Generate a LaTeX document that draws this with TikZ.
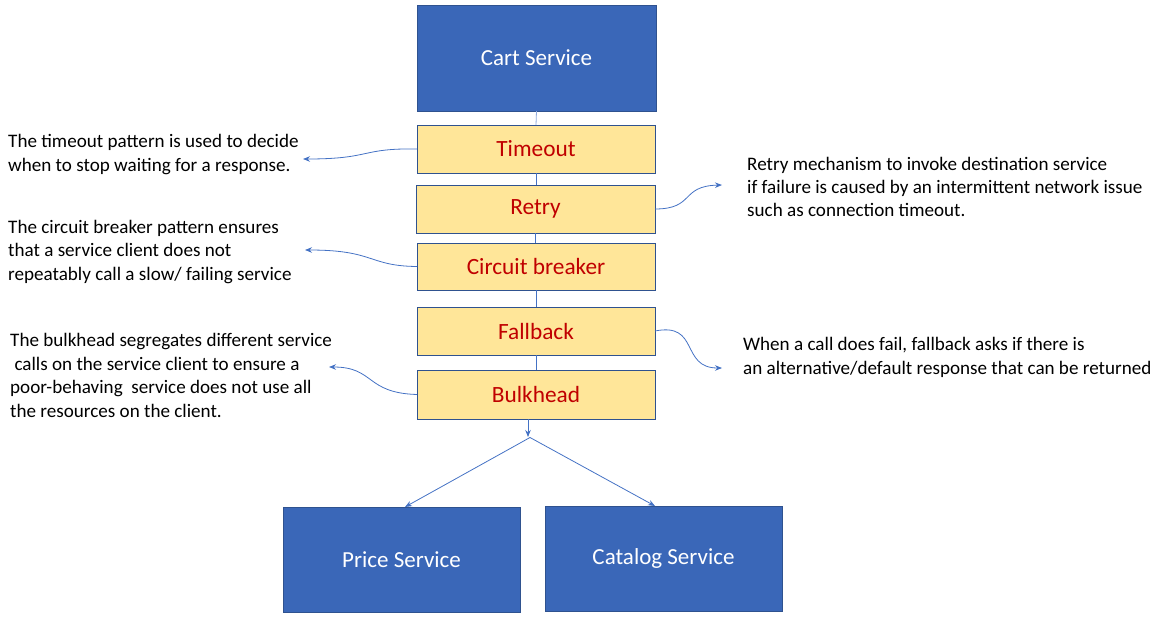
\documentclass[tikz,border=0pt]{standalone}
\usepackage{fontspec}
\setmainfont{Carlito}
\usetikzlibrary{arrows.meta}
\definecolor{svcblue}{HTML}{3A67B8}
\definecolor{svcedge}{HTML}{2F528F}
\definecolor{gold}{HTML}{FFE699}
\definecolor{redtxt}{HTML}{C00000}
\definecolor{linkblue}{HTML}{4472C4}
\tikzset{
  service/.style={draw=svcedge, line width=0.9pt, fill=svcblue, text=white, inner sep=0pt, outer sep=0pt, font=\fontsize{23}{27}\selectfont},
  pattern/.style={draw=svcedge, line width=0.9pt, fill=gold, text=redtxt, inner sep=0pt, outer sep=0pt, minimum width=238pt, minimum height=48pt, font=\fontsize{23.3}{27}\selectfont},
  note/.style={anchor=west, align=left, inner sep=0pt, text=black, font=\fontsize{19.1}{23.4}\selectfont},
  link/.style={draw=linkblue, line width=0.8pt},
  arrowlink/.style={link, -{Stealth[length=7pt,width=5.5pt]}}
}
\begin{document}
\begin{tikzpicture}[x=1pt,y=-1pt]
\useasboundingbox (0,0) rectangle (1165,627);
% services
\node[service, minimum width=239pt, minimum height=106pt] (cart) at (536.5,58) {Cart Service};
\node[service, minimum width=237pt, minimum height=105pt] (price) at (401.5,559.5) {Price Service};
\node[service, minimum width=237pt, minimum height=105pt] (catalog) at (663.5,558.5) {Catalog Service};
% patterns
\node[pattern] (timeout) at (536,149) {Timeout};
\node[pattern, minimum width=239pt] (retry) at (535.5,209) {Retry};
\node[pattern, minimum height=47pt] (circuit) at (536,266.5) {Circuit breaker};
\node[pattern] (fallback) at (536,331) {Fallback};
\node[pattern, minimum height=49pt] (bulkhead) at (536,394.5) {Bulkhead};
% vertical links
\draw[link, draw=linkblue!60] (cart.south) -- (timeout.north);
\draw[link] (timeout.south) -- (retry.north -| timeout.south);
\draw[link] (retry.south) -- (circuit.north -| retry.south);
\draw[link] (circuit.south) -- (fallback.north);
\draw[link] (fallback.south) -- (bulkhead.north);
% split
\coordinate (bx) at (528,0);
\coordinate (hub) at (528,437);
\coordinate (hubtop) at (530,437.5);
\coordinate (px) at (405,0);
\coordinate (cx) at (655,0);
\draw[arrowlink] (bulkhead.south -| bx) -- (hub);
\draw[arrowlink] (hubtop) -- (price.north -| px);
\draw[arrowlink] (hubtop) -- (catalog.north -| cx);
% notes
\node[note] (ntimeout) at (8,154.5) {The timeout pattern is used to decide\\when to stop waiting for a response.};
\node[note] (ncircuit) at (8,252) {The circuit breaker pattern ensures\\that a service client does not\\repeatably call a slow/ failing service};
\node[note] (nbulk) at (10,375.5) {The bulkhead segregates different service\\\ calls on the service client to ensure a\\poor-behaving\ \ service does not use all\\the resources on the client.};
\node[note] (nretry) at (747,187) {Retry mechanism to invoke destination service\\if failure is caused by an intermittent network issue\\such as connection timeout.};
\node[note] (nfallback) at (743,357.5) {When a call does fail, fallback asks if there is\\an alternative/default response that can be returned};
% curved arrows
\coordinate (tTip) at (303,159);
\coordinate (cTip) at (305,250);
\coordinate (bTip) at (329,367);
\coordinate (rTip) at (722,185);
\coordinate (fTip) at (722,368);
\draw[arrowlink] (timeout.west) .. controls (360,148) and (372,159) .. (tTip);
\draw[arrowlink] (circuit.west) .. controls (368,266) and (375,250) .. (cTip);
\draw[arrowlink] (bulkhead.west) .. controls (365,393) and (375,367) .. (bTip);
\draw[arrowlink] (retry.east) .. controls (695,209) and (680,186) .. (rTip);
\draw[arrowlink] (fallback.east) .. controls (700,322) and (680,368) .. (fTip);
\end{tikzpicture}
\end{document}
